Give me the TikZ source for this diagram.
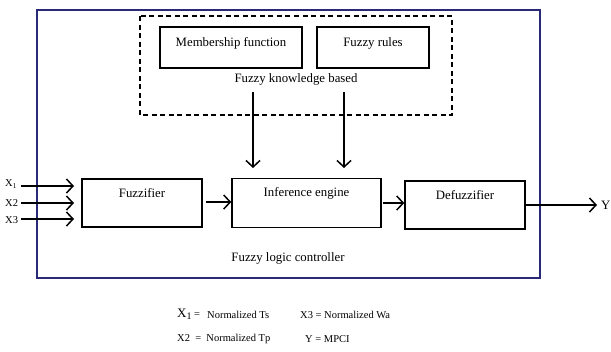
\documentclass[tikz,border=0pt]{standalone}
\usepackage{fontspec}
\setmainfont{Liberation Serif}
\usetikzlibrary{arrows.meta}
\definecolor{frameblue}{RGB}{40,42,120}
\tikzset{
  blk/.style={draw=black, line width=1.5bp},
  lbl/.style={font=\fontsize{12.8bp}{14bp}\selectfont, inner sep=0pt},
  small/.style={font=\fontsize{10.5bp}{12bp}\selectfont, inner sep=0pt},
  arr/.style={line width=1.5bp, -{Straight Barb[length=6.5bp,width=14bp,line width=1.5bp]}},
}
\begin{document}
\begin{tikzpicture}[x=1bp,y=-1bp]
\useasboundingbox (0,0) rectangle (611,351);
% outer frame
\draw[frameblue, line width=1.2bp] (37,10) rectangle (540,278);
% dashed knowledge box
\draw[black, line width=1.3bp, dash pattern=on 5bp off 3.5bp] (140,16) rectangle (452,115);
% boxes
\node[blk, minimum width=142bp, minimum height=41bp, inner sep=0pt] (mf) at (231,47.5) {};
\node[lbl] at (231,43) {Membership function};
\node[blk, minimum width=112bp, minimum height=41bp, inner sep=0pt] (fr) at (373,47.5) {};
\node[lbl] at (373,43) {Fuzzy rules};
\node[lbl] (fkb) at (296,79) {Fuzzy knowledge based};
\coordinate (k1) at (253,92);
\coordinate (k2) at (344,92);

\node[blk, minimum width=120bp, minimum height=48bp, inner sep=0pt] (fz) at (142,203) {};
\node[lbl] at (142,193) {Fuzzifier};
\node[blk, minimum width=149bp, minimum height=49bp, inner sep=0pt] (ie) at (306.5,203) {};
\node[lbl] at (306.5,193) {Inference engine};
\node[blk, minimum width=120bp, minimum height=48bp, inner sep=0pt] (dz) at (465,205) {};
\node[lbl] at (465,195) {Defuzzifier};

\node[lbl] (flc) at (288,258) {Fuzzy logic controller};

% knowledge arrows
\coordinate (k1e) at (253,168);
\coordinate (k2e) at (344,168);
\draw[arr] (k1) -- (k1e);
\draw[arr] (k2) -- (k2e);

% inputs
\node[small, anchor=west] (x1) at (5,184) {X\textsubscript{1}};
\node[small, anchor=west] (x2) at (5,203) {X2};
\node[small, anchor=west] (x3) at (5,220) {X3};
\coordinate (x1s) at (21,186);
\coordinate (x2s) at (21,203);
\coordinate (x3s) at (21,219);
\coordinate (x1e) at (74,186);
\coordinate (x2e) at (74,203);
\coordinate (x3e) at (74,219);
\draw[arr] (x1s) -- (x1e);
\draw[arr] (x2s) -- (x2e);
\draw[arr] (x3s) -- (x3e);

% internal arrows
\coordinate (a1) at (206,202);
\coordinate (a2) at (383,203);
\draw[arr] (a1) -- (ie.west |- a1);
\draw[arr] (a2) -- (dz.west |- a2);

% output
\coordinate (ys) at (525,205);
\coordinate (ye) at (597,205);
\draw[arr] (ys) -- (ye);
\node[lbl, anchor=west] (y) at (601,205) {Y};

% legend
\node[anchor=west, inner sep=0pt] (l1) at (177,314) {\fontsize{13bp}{14bp}\selectfont X\raisebox{-0.3ex}{\fontsize{10bp}{12bp}\selectfont 1}\fontsize{10.5bp}{12bp}\selectfont\ =};
\node[small, anchor=west] (l1b) at (207,315) {Normalized Ts};
\node[small, anchor=west] (l3) at (300,315) {X3 = Normalized Wa};
\node[small, anchor=west] (l2) at (177,339) {X2\ \ =\ \ Normalized Tp};
\node[small, anchor=west] (l4) at (305,339) {Y = MPCI};
\end{tikzpicture}
\end{document}
